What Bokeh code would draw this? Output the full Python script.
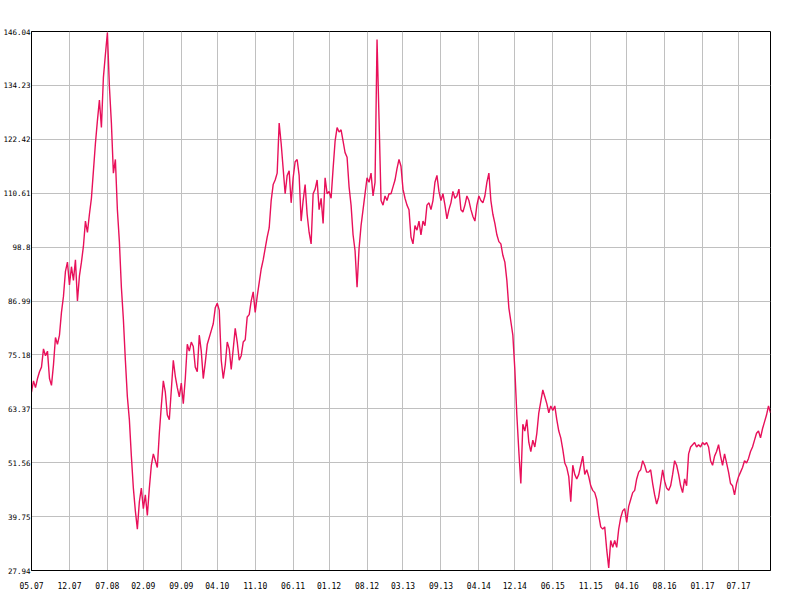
from bokeh.plotting import figure
from bokeh.models import Range1d, FixedTicker, PrintfTickFormatter
from bokeh.embed import file_html
from bokeh.resources import INLINE

# Price series (one value per sample)
values = [
    67.0, 69.5, 68.0, 70.0, 71.5, 72.5, 76.5, 75.0, 76.0, 70.0,
    68.5, 73.0, 79.0, 77.5, 79.5, 84.5, 88.0, 93.5, 95.5, 90.5,
    94.5, 91.5, 96.0, 87.0, 92.5, 95.5, 99.0, 104.5, 102.0, 106.0,
    109.5, 115.5, 121.5, 126.5, 131.0, 125.0, 136.0, 141.0, 145.8, 134.0,
    126.0, 115.0, 118.0, 107.0, 100.0, 90.0, 83.0, 74.0, 66.0, 61.0,
    53.0, 46.0, 41.0, 37.0, 43.0, 46.0, 41.5, 44.5, 40.0, 46.0,
    51.0, 53.5, 52.0, 50.5, 58.0, 64.0, 69.5, 67.0, 62.0, 61.0,
    67.5, 74.0, 70.5, 68.0, 66.0, 69.0, 64.5, 70.0, 77.5, 76.0,
    78.0, 77.0, 72.5, 71.5, 79.5, 76.0, 70.0, 73.5, 77.5, 79.0,
    80.5, 82.0, 85.5, 86.5, 85.0, 74.0, 70.0, 73.0, 78.0, 76.5,
    72.0, 76.5, 81.0, 78.0, 74.0, 75.0, 78.0, 78.5, 83.5, 84.0,
    87.0, 89.0, 84.5, 88.0, 91.0, 94.0, 96.0, 98.5, 101.0, 103.0,
    109.0, 112.5, 113.5, 115.0, 126.0, 121.5, 116.0, 110.5, 114.5, 115.5,
    108.5, 114.0, 117.5, 118.0, 114.5, 104.5, 109.0, 112.5, 106.0, 102.0,
    99.5, 110.5, 111.5, 113.5, 107.0, 109.5, 104.0, 114.0, 110.5, 111.0,
    109.5, 116.0, 122.0, 125.0, 124.0, 124.5, 122.0, 119.5, 118.5, 112.0,
    108.0, 101.5, 98.0, 90.0, 98.5, 103.5, 107.0, 110.5, 114.0, 113.0,
    115.0, 110.0, 113.0, 144.3, 127.0, 109.0, 108.0, 110.0, 109.0, 110.5,
    110.5, 112.0, 113.5, 116.0, 118.0, 116.5, 111.5, 109.5, 108.0, 107.0,
    101.0, 99.5, 103.5, 102.5, 104.5, 101.5, 104.5, 103.5, 108.0, 108.5,
    107.0, 109.0, 113.0, 114.5, 111.0, 109.0, 110.5, 108.0, 105.0, 107.0,
    108.5, 111.0, 109.5, 110.0, 111.5, 107.0, 106.5, 108.0, 110.0, 109.0,
    107.0, 105.5, 104.5, 108.0, 110.0, 109.0, 108.5, 110.0, 113.0, 115.0,
    109.0, 106.0, 104.0, 101.5, 100.0, 99.5, 97.0, 95.5, 91.5, 85.5,
    82.5, 79.5,
    72.0, 62.0, 54.0, 47.0, 60.0, 58.5, 61.0, 56.0, 54.0, 56.5,
    55.0, 58.0, 62.5, 65.0, 67.5, 66.0, 64.5, 62.5, 64.0, 63.0,
    64.0, 61.0, 58.5, 57.0, 54.5, 51.5, 50.5, 48.5, 43.0, 51.0,
    49.0, 48.0, 49.0, 51.0, 53.0, 49.0, 50.0, 48.5, 46.5, 45.5,
    45.0, 43.5, 40.0, 37.5, 37.0, 37.5, 32.5, 28.5, 34.5, 33.0,
    34.5, 33.0, 37.0, 39.5, 41.0, 41.5, 38.5, 42.0, 43.5, 45.0,
    45.5, 48.0, 49.5,
    50.0, 52.0, 51.0, 49.5, 49.5, 50.0, 47.0, 44.5, 42.5, 44.0,
    47.0, 50.0, 47.5, 46.0, 45.5, 46.5, 49.0, 52.0, 51.0, 49.0,
    46.5, 45.0, 48.0, 46.5, 53.5, 55.0, 55.5, 56.0, 55.0, 55.5,
    55.0, 56.0, 55.5, 56.0, 55.0, 52.0, 51.0, 53.0, 54.0, 55.5,
    53.0, 51.0, 53.5, 51.5, 49.5, 47.0, 46.5, 44.5, 47.0, 48.5,
    49.5, 50.5, 52.0, 51.5, 52.5, 54.0, 55.0, 56.5, 58.0, 58.5,
    57.0, 59.0, 60.5, 62.0, 64.0, 62.5,
]

# Axis ticks
x_tick_index = [0, 19, 38, 56, 75, 93, 112, 131, 149, 168,
                186, 205, 224, 242, 261, 280, 298, 317, 336, 354]
x_tick_labels = ["05.07", "12.07", "07.08", "02.09", "09.09", "04.10", "11.10",
                 "06.11", "01.12", "08.12", "03.13", "09.13", "04.14", "12.14",
                 "06.15", "11.15", "04.16", "08.16", "01.17", "07.17"]
y_ticks = [27.94, 39.75, 51.56, 63.37, 75.18, 86.99, 98.8, 110.61, 122.42, 134.23, 146.04]

idx = list(range(len(values)))

p = figure(width=790, height=592, output_backend="svg", toolbar_location=None,
           x_range=Range1d(0, len(values) - 1), y_range=Range1d(y_ticks[0], y_ticks[-1]),
           min_border_left=30, min_border_right=20, min_border_top=31, min_border_bottom=22)

p.background_fill_color = "white"
p.border_fill_color = "white"
p.outline_line_color = "black"
p.outline_line_width = 1
p.outline_line_alpha = 1

p.xgrid.ticker = FixedTicker(ticks=x_tick_index)
p.ygrid.ticker = FixedTicker(ticks=y_ticks)
for g in (p.xgrid, p.ygrid):
    g.grid_line_color = "#c0c0c0"
    g.grid_line_width = 1
    g.grid_line_alpha = 1

p.xaxis.ticker = FixedTicker(ticks=x_tick_index)
p.xaxis.major_label_overrides = {i: s for i, s in zip(x_tick_index, x_tick_labels)}
p.yaxis.ticker = FixedTicker(ticks=y_ticks)
p.yaxis.formatter = PrintfTickFormatter(format="%g")

for ax in (p.xaxis, p.yaxis):
    ax.axis_line_color = "black"
    ax.axis_line_width = 1
    ax.major_tick_out = 0
    ax.major_tick_in = 0
    ax.minor_tick_out = 0
    ax.minor_tick_in = 0
    ax.major_label_text_color = "black"
    ax.major_label_text_font = "DejaVu Sans Mono"

p.xaxis.major_label_text_font_size = "8px"
p.xaxis.major_label_standoff = 11
p.yaxis.major_label_text_font_size = "7.5px"
p.yaxis.major_label_standoff = 1

p.line(idx, values, line_color="#e8105a", line_width=1.4)

open("out.html", "w").write(file_html(p, INLINE))
